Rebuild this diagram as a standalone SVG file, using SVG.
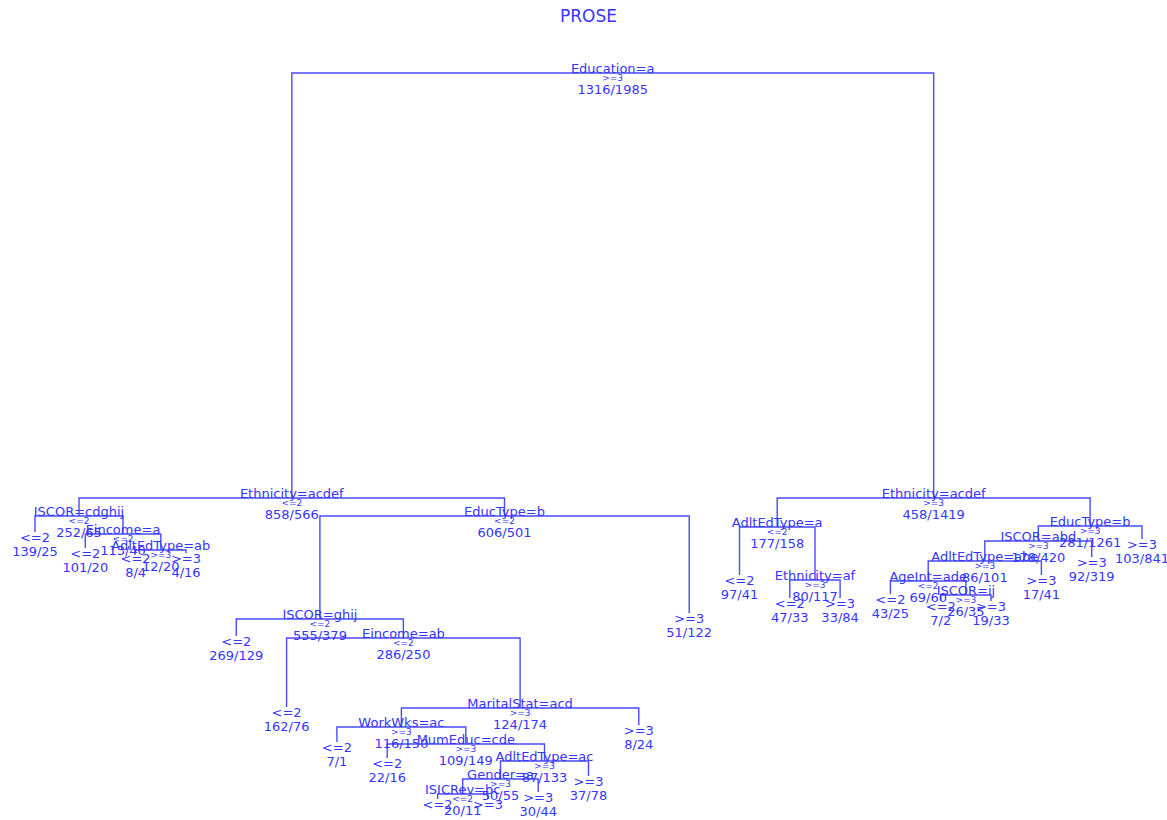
<svg xmlns="http://www.w3.org/2000/svg" width="1167" height="820" viewBox="0 0 1167 820">
<style>
text{font-family:"DejaVu Sans","Liberation Sans",sans-serif;fill:#3535ff;text-anchor:middle}
.t{font-size:17px}
.s{font-size:13px}
.c{font-size:9px}
.l{font-size:13px}
.n{font-size:13px}
#connectors path{fill:none;stroke:#4a4aff;stroke-width:1.4}
</style>
<rect width="1167" height="820" fill="#ffffff"/>
<text class="t" x="588.5" y="22">PROSE</text>
<g id="connectors">
<path d="M291.8 498V73H933.7V498"/>
<path d="M79 516V498H504.5V516"/>
<path d="M35 532V516H123V534"/>
<path d="M85.3 548V534H160.8V550"/>
<path d="M135.6 553V550H186V553"/>
<path d="M319.9 619V516H689.2V613"/>
<path d="M236.3 636V619H403.4V638"/>
<path d="M286.6 707V638H520.1V708"/>
<path d="M401.4 727V708H638.8V725"/>
<path d="M336.9 742V727H465.8V744"/>
<path d="M387.2 758V744H544.5V761"/>
<path d="M500.5 779V761H588.5V776"/>
<path d="M462.7 794V779H538.2V792"/>
<path d="M437.6 799V794H487.9V799"/>
<path d="M777.2 527V498H1090.1V526"/>
<path d="M739.5 575V527H815V580"/>
<path d="M789.8 598V580H840.1V598"/>
<path d="M1038.3 541V526H1142V539"/>
<path d="M984.8 561V541H1091.7V557"/>
<path d="M928.2 581V561H1041.4V575"/>
<path d="M890.4 594V581H965.9V595"/>
<path d="M940.8 601V595H991V601"/>
</g>
<g id="n-root"><text class="s" x="612.7" y="72.5">Education=a</text><text class="c" x="612.7" y="80.5">&gt;=3</text><text class="n" x="612.7" y="93.5">1316/1985</text></g>
<g id="n-ethL"><text class="s" x="291.8" y="497.5">Ethnicity=acdef</text><text class="c" x="291.8" y="505.5">&lt;=2</text><text class="n" x="291.8" y="518.5">858/566</text></g>
<g id="n-iscorcd"><text class="s" x="79" y="515.5">ISCOR=cdghij</text><text class="c" x="79" y="523.5">&lt;=2</text><text class="n" x="79" y="536.5">252/65</text></g>
<g id="n-eincA"><text class="s" x="123" y="533.5">Eincome=a</text><text class="c" x="123" y="541.5">&lt;=2</text><text class="n" x="123" y="554.5">113/40</text></g>
<g id="n-adltAB"><text class="s" x="160.8" y="549.5">AdltEdType=ab</text><text class="c" x="160.8" y="557.5">&gt;=3</text><text class="n" x="160.8" y="570.5">12/20</text></g>
<g id="n-educL"><text class="s" x="504.5" y="515.5">EducType=b</text><text class="c" x="504.5" y="523.5">&lt;=2</text><text class="n" x="504.5" y="536.5">606/501</text></g>
<g id="n-iscorgh"><text class="s" x="319.9" y="618.5">ISCOR=ghij</text><text class="c" x="319.9" y="626.5">&lt;=2</text><text class="n" x="319.9" y="639.5">555/379</text></g>
<g id="n-eincAB"><text class="s" x="403.4" y="637.5">Eincome=ab</text><text class="c" x="403.4" y="645.5">&lt;=2</text><text class="n" x="403.4" y="658.5">286/250</text></g>
<g id="n-marital"><text class="s" x="520.1" y="707.5">MaritalStat=acd</text><text class="c" x="520.1" y="715.5">&gt;=3</text><text class="n" x="520.1" y="728.5">124/174</text></g>
<g id="n-work"><text class="s" x="401.4" y="726.5">WorkWks=ac</text><text class="c" x="401.4" y="734.5">&gt;=3</text><text class="n" x="401.4" y="747.5">116/150</text></g>
<g id="n-mum"><text class="s" x="465.8" y="743.5">MumEduc=cde</text><text class="c" x="465.8" y="751.5">&gt;=3</text><text class="n" x="465.8" y="764.5">109/149</text></g>
<g id="n-adltAC"><text class="s" x="544.5" y="760.5">AdltEdType=ac</text><text class="c" x="544.5" y="768.5">&gt;=3</text><text class="n" x="544.5" y="781.5">87/133</text></g>
<g id="n-gender"><text class="s" x="500.5" y="778.5">Gender=a</text><text class="c" x="500.5" y="786.5">&gt;=3</text><text class="n" x="500.5" y="799.5">50/55</text></g>
<g id="n-isicr"><text class="s" x="462.7" y="793.5">ISICRev=bc</text><text class="c" x="462.7" y="801.5">&lt;=2</text><text class="n" x="462.7" y="814.5">20/11</text></g>
<g id="n-ethR"><text class="s" x="933.7" y="497.5">Ethnicity=acdef</text><text class="c" x="933.7" y="505.5">&gt;=3</text><text class="n" x="933.7" y="518.5">458/1419</text></g>
<g id="n-adltA"><text class="s" x="777.2" y="526.5">AdltEdType=a</text><text class="c" x="777.2" y="534.5">&lt;=2</text><text class="n" x="777.2" y="547.5">177/158</text></g>
<g id="n-ethAF"><text class="s" x="815" y="579.5">Ethnicity=af</text><text class="c" x="815" y="587.5">&gt;=3</text><text class="n" x="815" y="600.5">80/117</text></g>
<g id="n-educR"><text class="s" x="1090.1" y="525.5">EducType=b</text><text class="c" x="1090.1" y="533.5">&gt;=3</text><text class="n" x="1090.1" y="546.5">281/1261</text></g>
<g id="n-iscorabd"><text class="s" x="1038.3" y="540.5">ISCOR=abd</text><text class="c" x="1038.3" y="548.5">&gt;=3</text><text class="n" x="1038.3" y="561.5">178/420</text></g>
<g id="n-adltABE"><text class="s" x="984.8" y="560.5">AdltEdType=abe</text><text class="c" x="984.8" y="568.5">&gt;=3</text><text class="n" x="984.8" y="581.5">86/101</text></g>
<g id="n-age"><text class="s" x="928.2" y="580.5">AgeInt=ade</text><text class="c" x="928.2" y="588.5">&lt;=2</text><text class="n" x="928.2" y="601.5">69/60</text></g>
<g id="n-iscorij"><text class="s" x="965.9" y="594.5">ISCOR=ij</text><text class="c" x="965.9" y="602.5">&gt;=3</text><text class="n" x="965.9" y="615.5">26/35</text></g>
<g id="leaf-0"><text class="l" x="35" y="541.5">&lt;=2</text><text class="n" x="35" y="555.5">139/25</text></g>
<g id="leaf-1"><text class="l" x="85.3" y="557.5">&lt;=2</text><text class="n" x="85.3" y="571.5">101/20</text></g>
<g id="leaf-2"><text class="l" x="135.6" y="562.5">&lt;=2</text><text class="n" x="135.6" y="576.5">8/4</text></g>
<g id="leaf-3"><text class="l" x="186" y="562.5">&gt;=3</text><text class="n" x="186" y="576.5">4/16</text></g>
<g id="leaf-4"><text class="l" x="236.3" y="645.5">&lt;=2</text><text class="n" x="236.3" y="659.5">269/129</text></g>
<g id="leaf-5"><text class="l" x="286.6" y="716.5">&lt;=2</text><text class="n" x="286.6" y="730.5">162/76</text></g>
<g id="leaf-6"><text class="l" x="336.9" y="751.5">&lt;=2</text><text class="n" x="336.9" y="765.5">7/1</text></g>
<g id="leaf-7"><text class="l" x="387.2" y="767.5">&lt;=2</text><text class="n" x="387.2" y="781.5">22/16</text></g>
<g id="leaf-8"><text class="l" x="437.6" y="808.5">&lt;=2</text></g>
<g id="leaf-9"><text class="l" x="487.9" y="808.5">&gt;=3</text></g>
<g id="leaf-10"><text class="l" x="538.2" y="801.5">&gt;=3</text><text class="n" x="538.2" y="815.5">30/44</text></g>
<g id="leaf-11"><text class="l" x="588.5" y="785.5">&gt;=3</text><text class="n" x="588.5" y="799.5">37/78</text></g>
<g id="leaf-12"><text class="l" x="638.8" y="734.5">&gt;=3</text><text class="n" x="638.8" y="748.5">8/24</text></g>
<g id="leaf-13"><text class="l" x="689.2" y="622.5">&gt;=3</text><text class="n" x="689.2" y="636.5">51/122</text></g>
<g id="leaf-14"><text class="l" x="739.5" y="584.5">&lt;=2</text><text class="n" x="739.5" y="598.5">97/41</text></g>
<g id="leaf-15"><text class="l" x="789.8" y="607.5">&lt;=2</text><text class="n" x="789.8" y="621.5">47/33</text></g>
<g id="leaf-16"><text class="l" x="840.1" y="607.5">&gt;=3</text><text class="n" x="840.1" y="621.5">33/84</text></g>
<g id="leaf-17"><text class="l" x="890.4" y="603.5">&lt;=2</text><text class="n" x="890.4" y="617.5">43/25</text></g>
<g id="leaf-18"><text class="l" x="940.8" y="610.5">&lt;=2</text><text class="n" x="940.8" y="624.5">7/2</text></g>
<g id="leaf-19"><text class="l" x="991" y="610.5">&gt;=3</text><text class="n" x="991" y="624.5">19/33</text></g>
<g id="leaf-20"><text class="l" x="1041.4" y="584.5">&gt;=3</text><text class="n" x="1041.4" y="598.5">17/41</text></g>
<g id="leaf-21"><text class="l" x="1091.7" y="566.5">&gt;=3</text><text class="n" x="1091.7" y="580.5">92/319</text></g>
<g id="leaf-22"><text class="l" x="1142" y="548.5">&gt;=3</text><text class="n" x="1142" y="562.5">103/841</text></g>
</svg>
